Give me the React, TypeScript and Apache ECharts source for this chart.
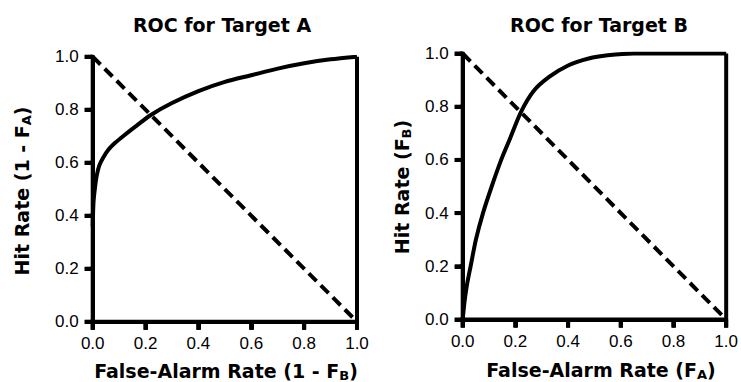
import React, { useEffect, useRef } from "react";
import * as echarts from "echarts";

// ---- data ----
const titles = ["ROC for Target A", "ROC for Target B"];
const xNames = ["False-Alarm Rate (1 - F{sub|B})", "False-Alarm Rate (F{sub|A})"];
const yNames = ["Hit Rate (1 - F{sub|A})", "Hit Rate (F{sub|B})"];
const tickValues = [0, 0.2, 0.4, 0.6, 0.8, 1.0];

const rocAX = [0, 0.003, 0.008, 0.015, 0.025, 0.04, 0.06, 0.085, 0.115, 0.16, 0.22, 0.3, 0.4, 0.5, 0.6, 0.7, 0.8, 0.9, 1.0];
const rocAY = [0.36, 0.45, 0.5, 0.55, 0.59, 0.62, 0.65, 0.675, 0.7, 0.735, 0.78, 0.825, 0.87, 0.905, 0.93, 0.955, 0.975, 0.99, 1.0];

const rocBX = [0, 0.005, 0.01, 0.017, 0.03, 0.05, 0.077, 0.11, 0.146, 0.177, 0.221, 0.27, 0.328, 0.4, 0.478, 0.55, 0.65, 0.8, 1.0];
const rocBY = [0, 0.05, 0.09, 0.135, 0.2, 0.3, 0.4, 0.5, 0.6, 0.674, 0.78, 0.86, 0.912, 0.955, 0.981, 0.993, 1.0, 1.0, 1.0];

// chance diagonal and frame lines (axis lines at 0, right edge at 1)
const chanceX = [0, 1];
const chanceY = [1, 0];
const edgeX = [1, 1];
const edgeY = [0, 1];
const bottomX = [0, 1];
const bottomY = [0, 0];
const leftX = [0, 0];
const leftY = [0, 1];

const zip = (xs: number[], ys: number[]) => xs.map((x, i) => [x, ys[i]]);

const BOLD_FONT = "DejaVu Sans";
const TICK_FONT = "Liberation Sans, Arial, sans-serif";
const TICK_LEN = 8;
const TICK_LEN_DATA = 0.03; // tick length expressed in axis units (≈ 8px)

const subRich = {
  sub: {
    fontFamily: BOLD_FONT,
    fontWeight: "bold",
    fontSize: 13,
    fill: "#000",
    color: "#000",
    verticalAlign: "bottom",
    lineHeight: 8,
  },
};

function makeAxis(i: number, isX: boolean) {
  return {
    type: "value" as const,
    gridIndex: i,
    min: 0,
    max: 1,
    interval: 0.2,
    splitLine: { show: false },
    axisLine: { show: true, onZero: false, lineStyle: { color: "#000", width: 4 } },
    axisTick: { show: true, length: TICK_LEN, lineStyle: { color: "#000", width: 4 } },
    axisLabel: {
      show: true,
      margin: isX ? 13 : 14,
      fontFamily: TICK_FONT,
      fontSize: 17,
      color: "#000",
      formatter: (v: number) => v.toFixed(1),
    },
  };
}

function nameText(text: string, x: number, y: number, rotation: number) {
  return {
    type: "text",
    x,
    y,
    rotation,
    z: 10,
    style: {
      text,
      fontFamily: BOLD_FONT,
      fontWeight: "bold",
      fontSize: 19,
      lineHeight: 22,
      fill: "#000",
      align: "center",
      verticalAlign: "middle",
      rich: subRich,
    },
  };
}

// tick segments in data space, separated by gaps, built from tickValues
const xTickData: any[] = [];
const yTickData: any[] = [];
tickValues.forEach((v) => {
  xTickData.push([v, 0], [v, -TICK_LEN_DATA], ["-", "-"]);
  yTickData.push([0, v], [-TICK_LEN_DATA, v], ["-", "-"]);
});

export default function App() {
  const ref = useRef<HTMLDivElement>(null);
  useEffect(() => {
    document.body.style.margin = "0";
    if (!ref.current) return;
    const chart = echarts.init(ref.current, undefined, { renderer: "svg" });

    const grids = [
      { left: 92.7, top: 56.7, width: 264.3, height: 265 },
      { left: 462.7, top: 53.5, width: 266, height: 266 },
    ];
    const titleCenters = [222, 599];

    const curves = [zip(rocAX, rocAY), zip(rocBX, rocBY)];
    const series: any[] = [];
    [0, 1].forEach((i) => {
      const solid = (data: any[], smooth: number | boolean, clip = true) => ({
        type: "line",
        xAxisIndex: i,
        yAxisIndex: i,
        data,
        showSymbol: false,
        smooth,
        clip,
        connectNulls: false,
        lineStyle: { color: "#000", width: 4 },
        z: 5,
      });
      series.push(solid(zip(bottomX, bottomY), false));
      series.push(solid(zip(leftX, leftY), false));
      series.push(solid(zip(edgeX, edgeY), false));
      series.push(solid(curves[i], 0.25));
      series.push(solid(xTickData, false, false));
      series.push(solid(yTickData, false, false));
      series.push({
        type: "line",
        xAxisIndex: i,
        yAxisIndex: i,
        data: zip(chanceX, chanceY),
        showSymbol: false,
        lineStyle: { color: "#000", width: 4, type: [11, 6] },
        z: 5,
      });
      // axis tick marks drawn through the axes' scales
      series.push({
        type: "custom",
        xAxisIndex: i,
        yAxisIndex: i,
        clip: false,
        silent: true,
        z: 6,
        data: tickValues.map((v) => [v, v]),
        encode: { x: 0, y: 1 },
        renderItem: (_params: any, api: any) => {
          const v = api.value(0);
          const px = api.coord([v, 0]);
          const py = api.coord([0, v]);
          return {
            type: "group",
            children: [
              {
                type: "line",
                shape: { x1: px[0], y1: px[1], x2: px[0], y2: px[1] + TICK_LEN },
                style: { stroke: "#000", lineWidth: 4 },
              },
              {
                type: "line",
                shape: { x1: py[0] - TICK_LEN, y1: py[1], x2: py[0], y2: py[1] },
                style: { stroke: "#000", lineWidth: 4 },
              },
            ],
          };
        },
      });
    });

    chart.setOption({
      animation: false,
      backgroundColor: "#fff",
      title: [0, 1].map((i) => ({
        text: titles[i],
        left: titleCenters[i],
        top: 15,
        textAlign: "center",
        padding: 0,
        textStyle: { fontFamily: BOLD_FONT, fontWeight: "bold", fontSize: 19, color: "#000" },
      })),
      grid: grids,
      xAxis: [makeAxis(0, true), makeAxis(1, true)],
      yAxis: [makeAxis(0, false), makeAxis(1, false)],
      series,
      graphic: [
        nameText(xNames[0], 226, 371, 0),
        nameText(xNames[1], 601, 370, 0),
        nameText(yNames[0], 22, 191, Math.PI / 2),
        nameText(yNames[1], 402, 187, Math.PI / 2),
      ],
    });
    return () => chart.dispose();
  }, []);
  return <div ref={ref} style={{ width: 741, height: 382 }} />;
}
